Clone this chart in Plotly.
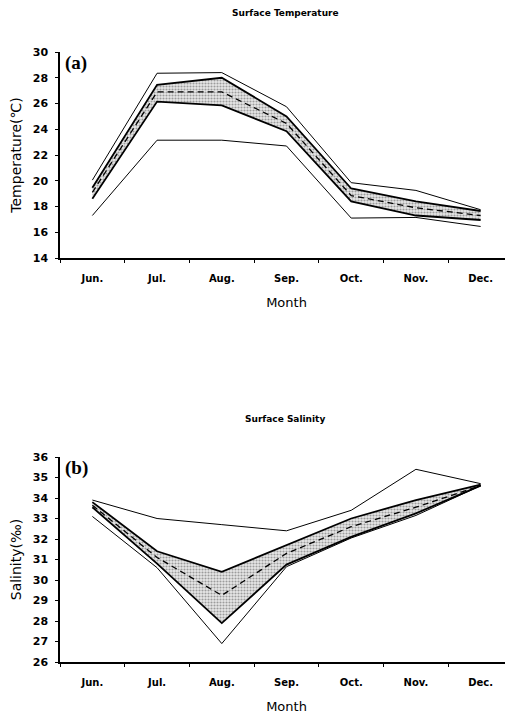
import plotly.graph_objects as go

months = ["Jun.", "Jul.", "Aug.", "Sep.", "Oct.", "Nov.", "Dec."]

temp_max = [20.05, 28.35, 28.4, 25.75, 19.85, 19.25, 17.75]
temp_upper = [19.45, 27.45, 28.0, 25.0, 19.4, 18.4, 17.65]
temp_mean = [19.1, 26.9, 26.9, 24.45, 18.85, 17.9, 17.3]
temp_lower = [18.6, 26.15, 25.85, 23.85, 18.4, 17.3, 16.95]
temp_min = [17.3, 23.15, 23.15, 22.7, 17.1, 17.15, 16.45]

sal_max = [33.9, 33.0, 32.7, 32.4, 33.4, 35.4, 34.7]
sal_upper = [33.8, 31.4, 30.4, 31.7, 33.0, 33.9, 34.65]
sal_mean = [33.65, 31.1, 29.25, 31.3, 32.6, 33.55, 34.6]
sal_lower = [33.55, 30.8, 27.9, 30.75, 32.1, 33.25, 34.6]
sal_min = [33.1, 30.6, 26.9, 30.65, 32.05, 33.15, 34.6]

OFF = 8                      # default page body margin
W, H = 513 - OFF, 715 - OFF  # figure size so it fits the window
L = 60 - OFF                 # plot area starts at page x = 60

fig = go.Figure()

pattern = dict(shape=".", bgcolor="#e8e8e8", fgcolor="#505050", size=3, solidity=0.4)


def add_panel(xa, ya, vmax, vup, vmean, vlow, vmin):
    fig.add_trace(go.Scatter(x=months, y=vlow, mode="lines", line=dict(color="black", width=1.8),
                             xaxis=xa, yaxis=ya, showlegend=False, hoverinfo="skip"))
    fig.add_trace(go.Scatter(x=months, y=vup, mode="lines", line=dict(color="black", width=1.8),
                             fill="tonexty", fillcolor="#cccccc", fillpattern=pattern,
                             xaxis=xa, yaxis=ya, showlegend=False, hoverinfo="skip"))
    fig.add_trace(go.Scatter(x=months, y=vmean, mode="lines",
                             line=dict(color="black", width=1.3, dash="6px,4px"),
                             xaxis=xa, yaxis=ya, showlegend=False))
    fig.add_trace(go.Scatter(x=months, y=vmax, mode="lines", line=dict(color="black", width=1),
                             xaxis=xa, yaxis=ya, showlegend=False))
    fig.add_trace(go.Scatter(x=months, y=vmin, mode="lines", line=dict(color="black", width=1),
                             xaxis=xa, yaxis=ya, showlegend=False))


add_panel("x", "y", temp_max, temp_upper, temp_mean, temp_lower, temp_min)
add_panel("x2", "y2", sal_max, sal_upper, sal_mean, sal_lower, sal_min)

tickfont = dict(family="DejaVu Sans", size=10, color="black", weight="bold")
ytickfont = dict(family="DejaVu Sans", size=11, color="black", weight="bold")
titlefont = dict(family="DejaVu Sans", size=13, color="black")

xcommon = dict(type="category", range=[-0.5, 6.5], tickson="boundaries", ticks="outside", ticklen=3,
               tickcolor="black", showline=True, linecolor="black", linewidth=1.5, showgrid=False,
               zeroline=False, tickfont=tickfont, ticklabelstandoff=10, fixedrange=True)
ycommon = dict(ticks="outside", ticklen=3, tickcolor="black", showline=True, linecolor="black",
               linewidth=1.5, showgrid=False, zeroline=False, tickfont=ytickfont, ticklabelstandoff=5)


def py(page_y):
    return 1 - (page_y - OFF) / H


def px(page_x):
    return (page_x - 60) / (W - L)


def ydom(top_px, bot_px):
    return [py(bot_px), py(top_px)]


fig.update_layout(
    width=W, height=H,
    margin=dict(l=L, r=0, t=0, b=0, autoexpand=False),
    paper_bgcolor="white", plot_bgcolor="white",
    xaxis=dict(xcommon, anchor="y", domain=[0, 1],
               title=dict(text="Month", font=titlefont, standoff=15)),
    yaxis=dict(ycommon, anchor="x", domain=ydom(52, 258), range=[14, 30], dtick=2,
               title=dict(text="Temperature(℃)", font=dict(titlefont, size=14), standoff=9)),
    xaxis2=dict(xcommon, anchor="y2", domain=[0, 1],
                title=dict(text="Month", font=titlefont, standoff=15)),
    yaxis2=dict(ycommon, anchor="x2", domain=ydom(457, 662), range=[26, 36], dtick=1,
                title=dict(text="Salinity(‰)", font=dict(titlefont, size=14), standoff=9)),
    annotations=[
        dict(text="Surface Temperature", x=px(285), y=py(13), xref="paper", yref="paper",
             yanchor="middle", showarrow=False,
             font=dict(family="DejaVu Sans", size=9, color="black", weight="bold")),
        dict(text="Surface Salinity", x=px(285), y=py(419), xref="paper", yref="paper",
             yanchor="middle", showarrow=False,
             font=dict(family="DejaVu Sans", size=9, color="black", weight="bold")),
        dict(text="(a)", x=px(63), y=py(63), xref="paper", yref="paper", xanchor="left",
             yanchor="middle", showarrow=False,
             font=dict(family="Liberation Serif", size=19, color="black", weight="bold")),
        dict(text="(b)", x=px(63), y=py(468), xref="paper", yref="paper", xanchor="left",
             yanchor="middle", showarrow=False,
             font=dict(family="Liberation Serif", size=19, color="black", weight="bold")),
    ],
)

fig.write_html("out.html")
